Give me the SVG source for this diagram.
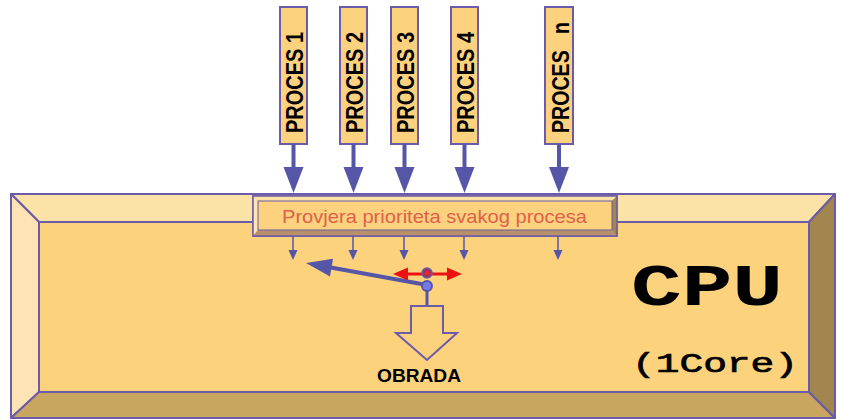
<svg xmlns="http://www.w3.org/2000/svg" width="841" height="420" viewBox="0 0 841 420">
<style>
.bev{stroke:#6B5BA8;stroke-width:2;stroke-linejoin:round}
.pbox{fill:#FDD27F;stroke:#6B5BA8;stroke-width:2}
.ptxt{font-family:"Liberation Sans",Arial,sans-serif;font-weight:bold;font-size:19px;fill:#000}
.blue{fill:#5656A8}
.thin{stroke:#5656A8;stroke-width:1.5}
</style>
<rect width="841" height="420" fill="#FFFFFF"/>
<g id="cpu">
<polygon class="bev" points="11,194 835,194 809,222 39,222" fill="#FBE2A6"/>
<polygon class="bev" points="11,194 39,222 39,392 11,418" fill="#FEE3B5"/>
<polygon class="bev" points="11,418 39,392 809,392 835,418" fill="#CAA560"/>
<polygon class="bev" points="835,194 835,418 809,392 809,222" fill="#A3864F"/>
<rect class="bev" x="39" y="222" width="770" height="170" fill="#FCD27D"/>
<text x="631" y="305" font-family="'Liberation Mono','Courier New',monospace" font-weight="bold" font-size="60" textLength="152" lengthAdjust="spacingAndGlyphs" fill="#000">CPU</text>
<text x="632" y="372" font-family="'Liberation Mono','Courier New',monospace" font-size="27" textLength="166" lengthAdjust="spacingAndGlyphs" fill="#000" stroke="#000" stroke-width="0.7">(1Core)</text>
</g>
<g id="p1">
<rect class="pbox" x="280" y="7" width="27" height="137"/>
<text class="ptxt" transform="translate(303,133) scale(1.25,1) rotate(-90)" textLength="101" lengthAdjust="spacingAndGlyphs">PROCES 1</text>
</g>
<g id="p2">
<rect class="pbox" x="340" y="7" width="27" height="137"/>
<text class="ptxt" transform="translate(363,133) scale(1.25,1) rotate(-90)" textLength="101" lengthAdjust="spacingAndGlyphs">PROCES 2</text>
</g>
<g id="p3">
<rect class="pbox" x="391" y="7" width="27" height="137"/>
<text class="ptxt" transform="translate(414,133) scale(1.25,1) rotate(-90)" textLength="101" lengthAdjust="spacingAndGlyphs">PROCES 3</text>
</g>
<g id="p4">
<rect class="pbox" x="451" y="7" width="27" height="137"/>
<text class="ptxt" transform="translate(474,133) scale(1.25,1) rotate(-90)" textLength="101" lengthAdjust="spacingAndGlyphs">PROCES 4</text>
</g>
<g id="pn">
<rect class="pbox" x="545" y="7" width="28" height="137"/>
<text class="ptxt" transform="translate(569,133) scale(1.25,1) rotate(-90)" textLength="111" lengthAdjust="spacingAndGlyphs" xml:space="preserve">PROCES   n</text>
</g>
<g id="connectors">
<rect class="blue" x="291.5" y="144" width="4" height="25"/>
<polygon class="blue" points="283.5,167 303.5,167 293.5,193"/>
<rect class="blue" x="351.5" y="144" width="4" height="25"/>
<polygon class="blue" points="343.5,167 363.5,167 353.5,193"/>
<rect class="blue" x="402.5" y="144" width="4" height="25"/>
<polygon class="blue" points="394.5,167 414.5,167 404.5,193"/>
<rect class="blue" x="462.5" y="144" width="4" height="25"/>
<polygon class="blue" points="454.5,167 474.5,167 464.5,193"/>
<rect class="blue" x="557" y="144" width="4" height="25"/>
<polygon class="blue" points="549,167 569,167 559,193"/>
<line class="thin" x1="293" y1="236" x2="293" y2="252"/>
<polygon class="blue" points="288.5,250 297.5,250 293,260"/>
<line class="thin" x1="353" y1="236" x2="353" y2="252"/>
<polygon class="blue" points="348.5,250 357.5,250 353,260"/>
<line class="thin" x1="404" y1="236" x2="404" y2="252"/>
<polygon class="blue" points="399.5,250 408.5,250 404,260"/>
<line class="thin" x1="464" y1="236" x2="464" y2="252"/>
<polygon class="blue" points="459.5,250 468.5,250 464,260"/>
<line class="thin" x1="558" y1="236" x2="558" y2="252"/>
<polygon class="blue" points="553.5,250 562.5,250 558,260"/>
<line x1="427" y1="285" x2="328" y2="267" stroke="#5656A8" stroke-width="4"/>
<polygon class="blue" points="306,263 333,258.8 330,276.6"/>
<line x1="405" y1="274" x2="450" y2="274" stroke="#EE1111" stroke-width="3"/>
<polygon points="393,274 408,267.5 408,280.5" fill="#EE1111"/>
<polygon points="462,274 447,267.5 447,280.5" fill="#EE1111"/>
<circle cx="427" cy="273" r="5" fill="#A03060" stroke="#6B5BA8" stroke-width="1.5"/>
<circle cx="427" cy="273" r="2" fill="#FF2020"/>
<line x1="427" y1="290" x2="427" y2="306" stroke="#5656A8" stroke-width="3"/>
<circle cx="427" cy="286" r="5" fill="#7878E8" stroke="#5656A8" stroke-width="2"/>
</g>
<g id="priority">
<rect x="253" y="196" width="364" height="40" fill="#F6C97C" stroke="#6B5BA8" stroke-width="1.5"/>
<polygon points="253,196 617,196 612,201 258,201" fill="#FBE2A6"/>
<polygon points="253,196 258,201 258,230 253,236" fill="#FEE3B5"/>
<polygon points="253,236 258,230 612,230 617,236" fill="#B8906A"/>
<polygon points="617,196 617,236 612,230 612,201" fill="#A3864F"/>
<rect x="253" y="196" width="364" height="40" fill="none" stroke="#6B5BA8" stroke-width="1.5"/>
<rect x="258" y="201" width="354" height="29" fill="#FCD27E" stroke="#6B5BA8" stroke-width="1"/>
<text x="282" y="223" font-family="'Liberation Sans',Arial,sans-serif" font-size="19" textLength="305" lengthAdjust="spacingAndGlyphs" fill="#E0604A">Provjera prioriteta svakog procesa</text>
</g>
<g id="obrada">
<polygon points="411,306 443,306 443,333 457,333 427,360 396,333 411,333" fill="#FCD27D" stroke="#6B5BA8" stroke-width="2" stroke-linejoin="miter"/>
<text x="377" y="382" font-family="'Liberation Sans',Arial,sans-serif" font-weight="bold" font-size="18" textLength="84" lengthAdjust="spacingAndGlyphs" fill="#000">OBRADA</text>
</g>
</svg>
